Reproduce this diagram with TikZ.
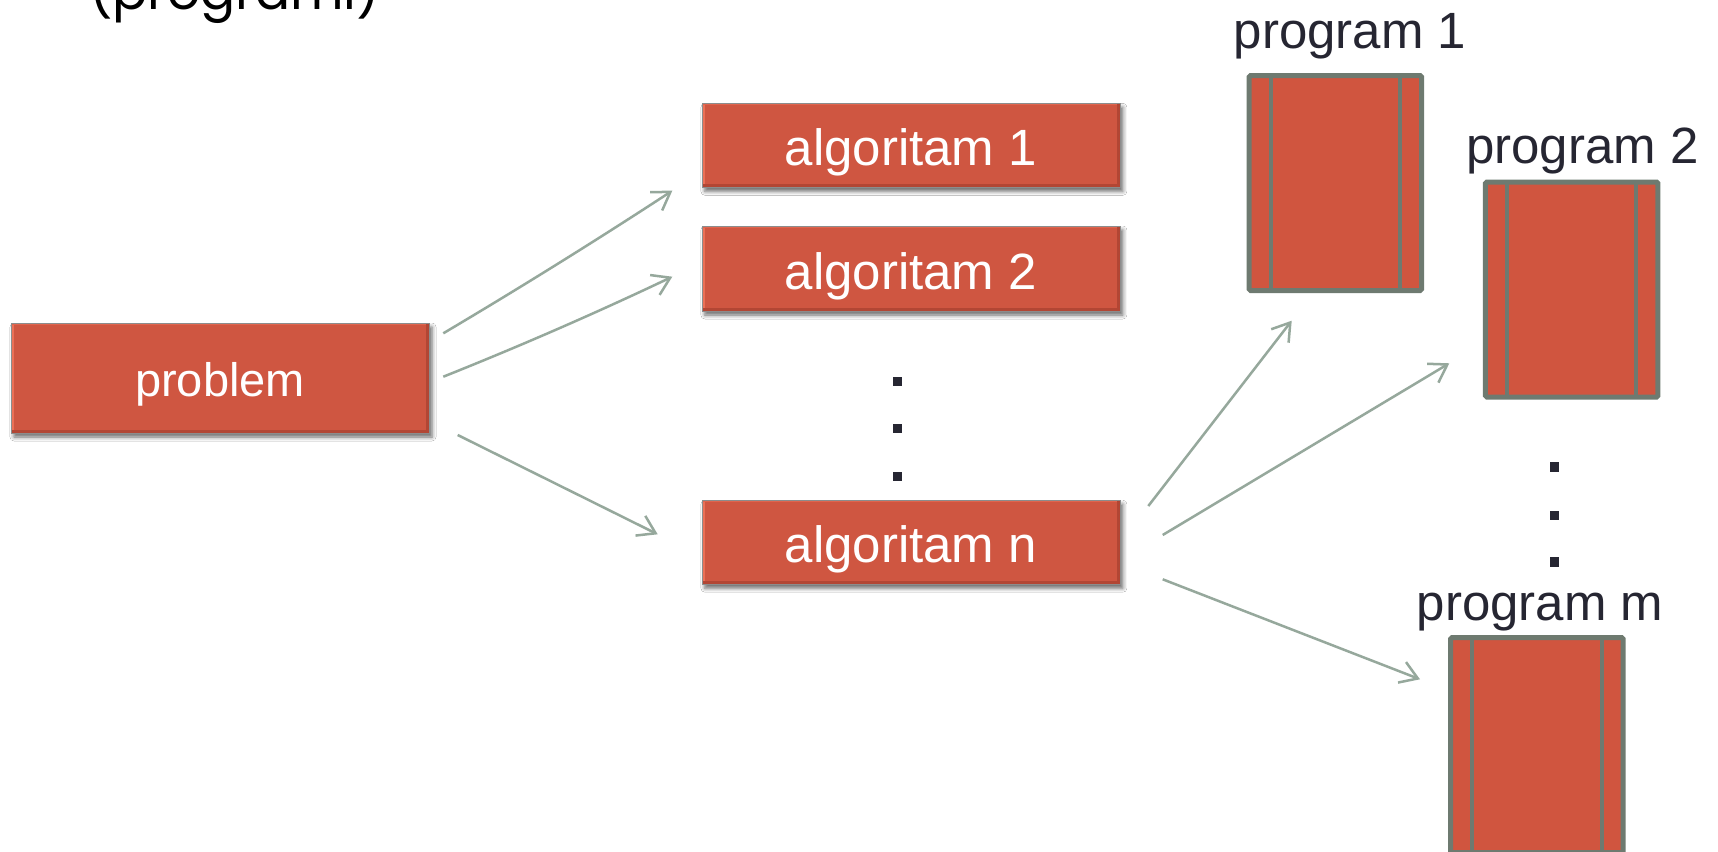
\documentclass[tikz,border=0pt]{standalone}
\usepackage{fontspec}
\setmainfont{Liberation Sans}
\newfontfamily\titlefont{Poppins}
\usetikzlibrary{arrows.meta,shadows.blur,calc}

\definecolor{boxred}{RGB}{207,86,65}
\definecolor{boxlight}{RGB}{236,112,86}
\definecolor{boxdark}{RGB}{178,70,52}
\definecolor{boxedge}{RGB}{140,140,140}
\definecolor{progred}{RGB}{208,85,63}
\definecolor{progedge}{RGB}{110,122,112}
\definecolor{arrowc}{RGB}{150,168,156}
\definecolor{inkc}{RGB}{38,38,50}

\begin{document}
\begin{tikzpicture}[x=1pt,y=-1pt,
  bevelbox/.style={rectangle, fill=boxred, draw=boxedge, line width=0.8pt,
    inner sep=0pt, text=white,
    blur shadow={shadow xshift=3pt, shadow yshift=-4pt,
      shadow blur radius=4pt, shadow opacity=60},
    path picture={
      \fill[boxlight] (path picture bounding box.north west)
        rectangle ([xshift=3pt]path picture bounding box.south west);
      \fill[boxlight!60!boxred] (path picture bounding box.north west)
        rectangle ([yshift=-2pt]path picture bounding box.north east);
      \fill[boxdark] ([yshift=3pt]path picture bounding box.south west)
        rectangle (path picture bounding box.south east);
      \fill[boxdark] ([xshift=-3pt]path picture bounding box.north east)
        rectangle (path picture bounding box.south east);
    }},
  algbox/.style={bevelbox, minimum width=418pt, minimum height=84pt,
    font=\fontsize{51}{60}\selectfont, text height=41pt, text depth=0pt},
  probbox/.style={bevelbox, minimum width=418pt, minimum height=110pt,
    font=\fontsize{47}{56}\selectfont, text height=37.5pt, text depth=0pt},
  progbox/.style={rectangle, rounded corners=1.5pt, fill=progred,
    draw=progedge, line width=5pt, minimum width=172.5pt,
    minimum height=215pt, inner sep=0pt,
    path picture={
      \draw[progedge, line width=4pt]
        ([xshift=21.5pt]path picture bounding box.north west) --
        ([xshift=21.5pt]path picture bounding box.south west);
      \draw[progedge, line width=4pt]
        ([xshift=-21.5pt]path picture bounding box.north east) --
        ([xshift=-21.5pt]path picture bounding box.south east);
    }},
  proglabel/.style={anchor=base, inner sep=0pt, text=inkc,
    font=\fontsize{51}{60}\selectfont},
  dotsq/.style={rectangle, fill=inkc, minimum size=9.5pt, inner sep=0pt},
  link/.style={draw=arrowc, line width=2.5pt,
    -{Straight Barb[length=17pt,width=22pt]}}
]
\useasboundingbox (0,0) rectangle (1718,851);
\fill[white] (0,0) rectangle (1718,851);
\clip (0,0) rectangle (1718,851);

% heading, cut by the top edge
\node[anchor=base west, inner sep=0pt,
  font=\titlefont\fontsize{52}{60}\selectfont] (title) at (89,9.5) {(programi)};

% problem and algorithms
\node[probbox] (problem) at (220,378) {problem};
\node[algbox] (a1) at (910.9,145.3) {algoritam 1};
\node[algbox, minimum height=85pt] (a2) at (910.9,268.5) {algoritam 2};
\node[algbox] (an) at (910.9,542.2) {algoritam n};

\node[dotsq] (ad1) at (897.7,381.7) {};
\node[dotsq] (ad2) at (897.7,428.3) {};
\node[dotsq] (ad3) at (897.7,476.7) {};

% programs
\node[progbox] (p1) at (1335.4,183) {};
\node[progbox] (p2) at (1571.7,289.5) {};
\node[progbox] (pm) at (1536.9,745) {};

\node[proglabel] (l1) at (1350,48.3) {program 1};
\node[proglabel] (l2) at (1582.3,163.3) {program 2};
\node[proglabel] (lm) at (1540,620) {program m};

\node[dotsq] (pd1) at (1554.5,467) {};
\node[dotsq] (pd2) at (1554.5,515.7) {};
\node[dotsq] (pd3) at (1554.5,562) {};

% arrow end points; c1/c2 are the apexes of the two gently sagging ones
\coordinate (s1) at (443.3,333.3);  \coordinate (e1) at (672.3,190.7);
\coordinate (c1) at (559.4,264.5);
\coordinate (s2) at (443.3,376.7);  \coordinate (e2) at (672.3,276.7);
\coordinate (c2) at (559.4,330.4);
\coordinate (s3) at (457.7,435);    \coordinate (e3) at (657.7,534.3);
\coordinate (s4) at (1148.3,506);   \coordinate (e4) at (1291.7,320.7);
\coordinate (s5) at (1162.7,535);   \coordinate (e5) at (1449.3,363.3);
\coordinate (s6) at (1162.7,579.3); \coordinate (e6) at (1420,679.3);

\draw[link] (s1) .. controls ($(s1)!2/3!(c1)$) and ($(e1)!2/3!(c1)$) .. (e1);
\draw[link] (s2) .. controls ($(s2)!2/3!(c2)$) and ($(e2)!2/3!(c2)$) .. (e2);
\draw[link] (s3) -- (e3);
\draw[link] (s4) -- (e4);
\draw[link] (s5) -- (e5);
\draw[link] (s6) -- (e6);
\end{tikzpicture}
\end{document}
